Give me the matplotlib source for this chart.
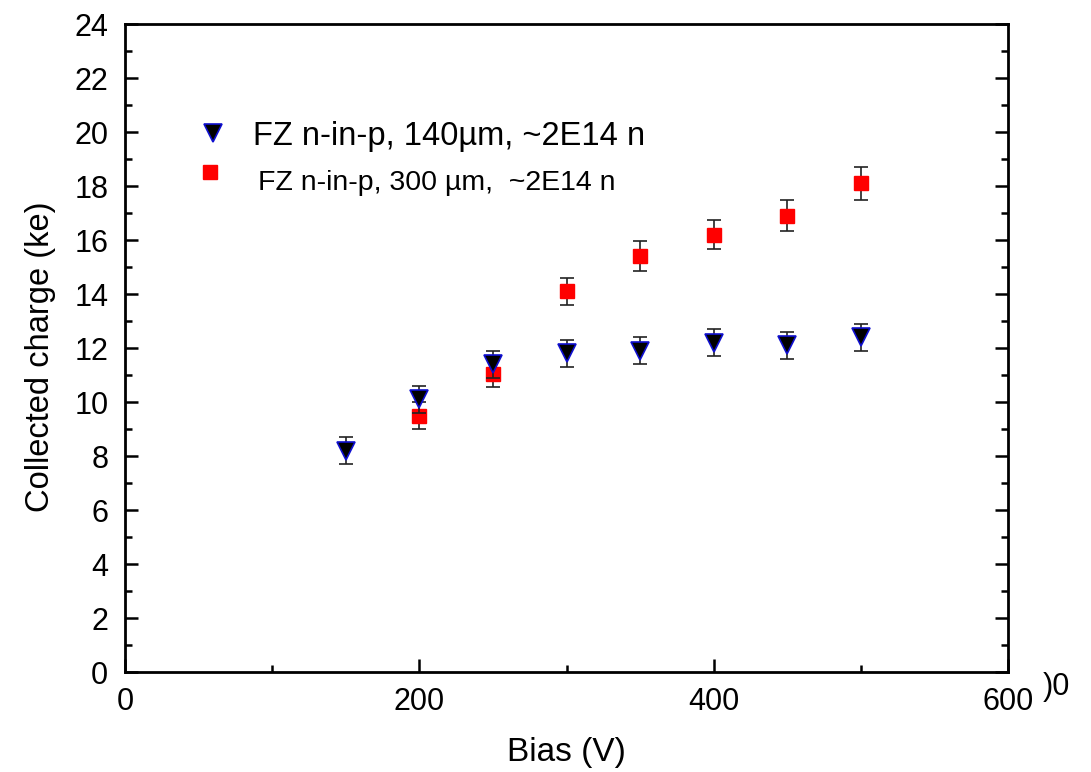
import matplotlib
matplotlib.use("Agg")
import matplotlib.pyplot as plt
from matplotlib.ticker import MultipleLocator

plt.rcParams['font.family'] = ['Liberation Sans', 'DejaVu Sans']

bias = [150, 200, 250, 300, 350, 400, 450, 500]
thin_charge = [8.2, 10.1, 11.4, 11.8, 11.9, 12.2, 12.1, 12.4]
thin_err = [0.5, 0.5, 0.5, 0.5, 0.5, 0.5, 0.5, 0.5]
thick_bias = [200, 250, 300, 350, 400, 450, 500]
thick_charge = [9.5, 11.05, 14.1, 15.4, 16.2, 16.9, 18.1]
thick_err = [0.5, 0.5, 0.5, 0.55, 0.55, 0.57, 0.6]

label_thin = "FZ n-in-p, 140\u00b5m, ~2E14 n"
label_thick = "FZ n-in-p, 300 \u00b5m,  ~2E14 n"

fig = plt.figure(figsize=(10.91, 7.72), dpi=100)
ax = fig.add_axes([0.1146, 0.1295, 0.8093, 0.8394])

ax.errorbar(thick_bias, thick_charge, yerr=thick_err, fmt='s', ms=10,
            mfc='#ff0000', mec='#ff0000', ecolor='#222222', elinewidth=1.2,
            capsize=5, capthick=1.2, zorder=3)
ax.errorbar(bias, thin_charge, yerr=thin_err, fmt='v', ms=13,
            mfc='black', mec='#1010d0', mew=1.2, ecolor='#222222', elinewidth=1.2,
            capsize=5, capthick=1.2, zorder=4)

ax.set_xlim(0, 600)
ax.set_ylim(0, 24)
ax.xaxis.set_major_locator(MultipleLocator(200))
ax.xaxis.set_minor_locator(MultipleLocator(100))
ax.yaxis.set_major_locator(MultipleLocator(2))
ax.yaxis.set_minor_locator(MultipleLocator(1))

for s in ax.spines.values():
    s.set_linewidth(2)
ax.tick_params(which='both', direction='in', width=1.8, labelsize=22,
               top=False, right=True, bottom=True, left=True)
ax.tick_params(which='major', length=9.5, pad=11)
ax.tick_params(which='minor', length=5)
ax.tick_params(axis='y', pad=12)

ax.set_xlabel("Bias (V)", fontsize=24)
ax.xaxis.set_label_coords(0.5, -0.1)
ax.set_ylabel("Collected charge (ke)", fontsize=23.5)
ax.yaxis.set_label_coords(-0.078, 0.486)

fig.text(0.9555, 0.0995, ")0", fontsize=22, ha='left', va='baseline')

# legend keys and labels (manual layout to mimic the original's offsets)
fig.lines.append(plt.Line2D([213 / 1091], [1 - 133 / 772], transform=fig.transFigure,
                            ls='none', marker='v', ms=13, mfc='black',
                            mec='#1010d0', mew=1.2))
fig.lines.append(plt.Line2D([210 / 1091], [1 - 172 / 772], transform=fig.transFigure,
                            ls='none', marker='s', ms=10, mfc='#ff0000',
                            mec='#ff0000'))
fig.text(253 / 1091, 1 - 145 / 772, label_thin, fontsize=23.5, va='baseline')
fig.text(258 / 1091, 1 - 190 / 772, label_thick, fontsize=20.5, va='baseline')

fig.savefig("out.png", dpi=100)
